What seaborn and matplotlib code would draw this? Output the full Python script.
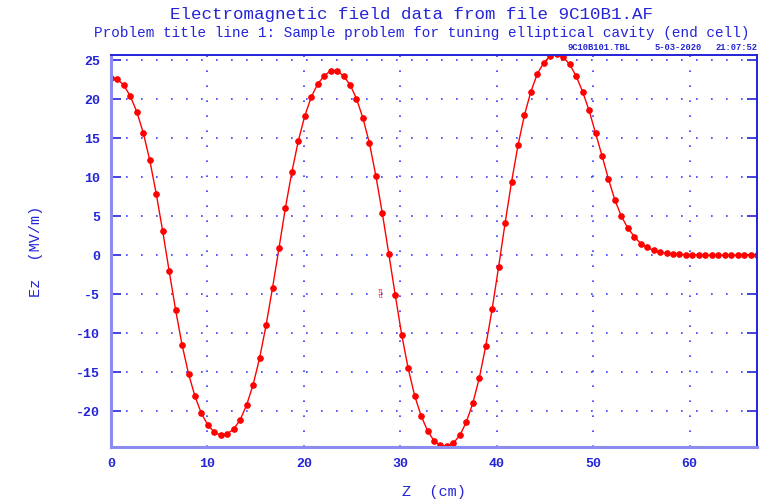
import numpy as np
import pandas as pd
import seaborn as sns
import matplotlib
import matplotlib.pyplot as plt

matplotlib.use('Agg')

# Z positions (cm) and Ez values (MV/m)
z_cm = [0.00, 0.67, 1.34, 2.01, 2.68, 3.35, 4.02, 4.69, 5.36, 6.03,
        6.70, 7.37, 8.04, 8.71, 9.38, 10.05, 10.72, 11.39, 12.06, 12.73,
        13.40, 14.07, 14.74, 15.41, 16.08, 16.75, 17.42, 18.09, 18.76, 19.43,
        20.10, 20.77, 21.44, 22.11, 22.78, 23.45, 24.12, 24.79, 25.46, 26.13,
        26.80, 27.47, 28.14, 28.81, 29.48, 30.15, 30.82, 31.49, 32.16, 32.83,
        33.50, 34.17, 34.84, 35.51, 36.18, 36.85, 37.52, 38.19, 38.86, 39.53,
        40.20, 40.87, 41.54, 42.21, 42.88, 43.55, 44.22, 44.89, 45.56, 46.23,
        46.90, 47.57, 48.24, 48.91, 49.58, 50.25, 50.92, 51.59, 52.26, 52.93,
        53.60, 54.27, 54.94, 55.61, 56.28, 56.95, 57.62, 58.29, 58.96, 59.63,
        60.30, 60.97, 61.64, 62.31, 62.98, 63.65, 64.32, 64.99, 65.66, 66.33,
        67.00]

ez = [22.8, 22.6, 21.8, 20.4, 18.4, 15.7, 12.2, 7.9, 3.1, -2.0,
      -7.0, -11.5, -15.2, -18.1, -20.3, -21.8, -22.7, -23.1, -22.9, -22.3,
      -21.1, -19.2, -16.6, -13.2, -9.0, -4.2, 0.9, 6.1, 10.7, 14.7,
      17.9, 20.3, 22.0, 23.0, 23.7, 23.7, 23.0, 21.9, 20.1, 17.6,
      14.4, 10.2, 5.4, 0.2, -5.1, -10.2, -14.5, -18.0, -20.6, -22.5,
      -23.8, -24.4, -24.5, -24.1, -23.1, -21.4, -19.0, -15.8, -11.7, -6.9,
      -1.5, 4.1, 9.4, 14.1, 18.0, 21.0, 23.3, 24.7, 25.6, 25.8,
      25.4, 24.5, 23.0, 21.0, 18.6, 15.7, 12.8, 9.8, 7.1, 5.0,
      3.5, 2.4, 1.5, 1.0, 0.64, 0.43, 0.26, 0.17, 0.12, 0.08,
      0.05, 0.03, 0.02, 0.01, 0.01, 0.0, 0.0, 0.0, 0.0, 0.0,
      0.0]

x_ticks = [0, 10, 20, 30, 40, 50, 60]
y_ticks = [-20, -15, -10, -5, 0, 5, 10, 15, 20, 25]

blue = '#2424d8'
light_blue = '#8c8cf0'
mono = ['Liberation Mono', 'DejaVu Sans Mono']

sns.set_style('white')
plt.rcParams['font.family'] = mono
plt.rcParams['axes.unicode_minus'] = False

df = pd.DataFrame({'z': z_cm, 'ez': ez})

fig = plt.figure(figsize=(7.63, 5.03), dpi=100)
ax = fig.add_axes([111 / 763, 1 - 447 / 503, (757 - 111) / 763, (447 - 55) / 503])

sns.lineplot(data=df, x='z', y='ez', ax=ax, color='red', linewidth=1.0,
             marker='o', markersize=4.0, markeredgecolor='red', sort=False)

ax.set_xlim(0, 67)
ax.set_ylim(-24.6, 25.7)
ax.set_xticks(x_ticks)
ax.set_yticks(y_ticks)

# dotted grid
ax.grid(True, color='#3a3aff', linestyle=(0, (1, 8)), linewidth=1.2)

for side in ['left', 'bottom']:
    ax.spines[side].set_color(light_blue)
    ax.spines[side].set_linewidth(2.2)
for side in ['top', 'right']:
    ax.spines[side].set_color(blue)
    ax.spines[side].set_linewidth(1.4)
    ax.spines[side].set_visible(True)

ax.tick_params(axis='both', direction='in', length=7, width=1.2, color=blue,
               labelcolor=blue, labelsize=9.5, left=True, right=True,
               bottom=False, top=False, pad=8)
for lab in ax.get_xticklabels() + ax.get_yticklabels():
    lab.set_fontweight('bold')

ax.set_xlabel('Z  (cm)', color=blue, fontsize=11, labelpad=10.5)
ax.set_ylabel('Ez  (MV/m)', color=blue, fontsize=11, labelpad=24)

fig.text(411 / 763, 1 - 14 / 503, 'Electromagnetic field data from file 9C10B1.AF',
         ha='center', va='center', color=blue, fontsize=12.6)
fig.text(422 / 763, 1 - 33 / 503,
         'Problem title line 1: Sample problem for tuning elliptical cavity (end cell)',
         ha='center', va='center', color=blue, fontsize=10.4)
fig.text(568 / 763, 1 - 48 / 503, '9C10B101.TBL', ha='left', va='center',
         color=blue, fontsize=6.3, fontweight='bold')
fig.text(655 / 763, 1 - 48 / 503, '5-03-2020', ha='left', va='center',
         color=blue, fontsize=6.3, fontweight='bold')
fig.text(757 / 763, 1 - 48 / 503, '21:07:52', ha='right', va='center',
         color=blue, fontsize=6.3, fontweight='bold')

# small marker label near the curve
ax.text(28.0, -5.0, 'T1\nT1', color='red', fontsize=3.5, ha='center', va='center',
        linespacing=0.9)

fig.savefig('out.png', dpi=100)
